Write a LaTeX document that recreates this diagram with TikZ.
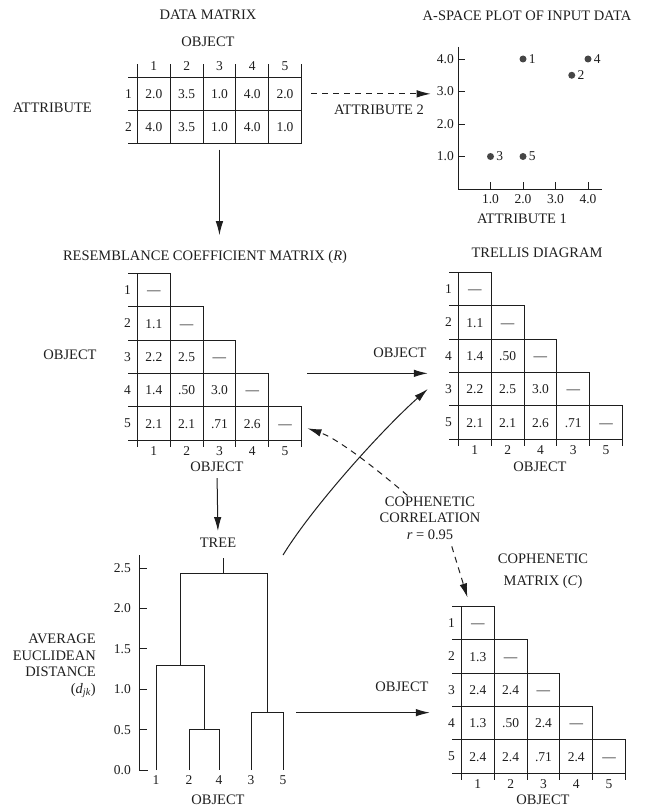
\documentclass[tikz,border=0pt]{standalone}
\usepackage{amsmath}
\usepackage{fontspec}
\setmainfont{Liberation Serif}
\usepackage{tikz}
\usetikzlibrary{arrows.meta, positioning, matrix}

\definecolor{inkblack}{RGB}{30,30,30}
\definecolor{dotgray}{RGB}{70,70,70}

\tikzset{
  cell/.style={
    rectangle, draw=inkblack, line width=0.9pt, inner sep=0pt, outer sep=0pt,
    minimum width=32.8pt, minimum height=33.3pt, text height=9.5pt, text depth=0pt,
    font=\fontsize{13.5}{15}\selectfont, text=inkblack
  },
  cellmatrix/.style={
    matrix of nodes, nodes={cell}, inner sep=0pt, outer sep=0pt,
    column sep=-0.9pt, row sep=-0.9pt, anchor=north west
  },
  heading/.style={font=\fontsize{14.5}{16.5}\selectfont, text=inkblack, inner sep=1pt},
  idx/.style={font=\fontsize{13.5}{15}\selectfont, text=inkblack, inner sep=1pt},
  axisline/.style={draw=inkblack, line width=0.9pt},
  pointdot/.style={circle, fill=dotgray, minimum size=7pt, inner sep=0pt},
  arrowflow/.style={-{Latex[length=14pt,width=7.5pt]}, line width=1pt, draw=inkblack},
  dataflow/.style={arrowflow, dash pattern=on 6pt off 5pt}
}

\begin{document}
\begin{tikzpicture}[x=1pt, y=-1pt]
\useasboundingbox (0,0) rectangle (650,808);

% data matrix
\node[heading] (dtitle) at (208,15) {DATA MATRIX};
\node[heading] (dobj) at (208,42) {OBJECT};
\matrix (data) [cellmatrix, nodes={minimum height=32.8pt}] at (137,77) {
  2.0 & 3.5 & 1.0 & 4.0 & 2.0 \\
  4.0 & 3.5 & 1.0 & 4.0 & 1.0 \\
};
\foreach \c in {1,...,5} {
  \draw[axisline] (data-1-\c.north west) -- ++(0,-13);
  \node[idx] at ([yshift=11pt]data-1-\c.north) {\c};
}
\draw[axisline] (data-1-5.north east) -- ++(0,-13);
\foreach \r in {1,2} {
  \draw[axisline] (data-\r-1.north west) -- ++(-9,0);
  \node[idx] at ([xshift=-9pt]data-\r-1.west) {\r};
}
\draw[axisline] (data-2-1.south west) -- ++(-9,0);
\node[heading, anchor=east] (attr) at (93,108) {ATTRIBUTE};

% a-space plot
\node[heading] (stitle) at (527,16) {A-SPACE PLOT OF INPUT DATA};
\begin{scope}[shift={(458,189)}, x=32.5pt, y=32.5pt]
  \draw[axisline] (0,4.37) |- (4.43,0);
  \foreach \v in {1,...,4} {
    \draw[axisline] (0,\v) -- ++(7pt,0);
    \draw[axisline] (\v,0) -- ++(0,7pt);
    \node[idx, anchor=east] (ytick\v) at ([xshift=-3pt]0,\v) {\v.0};
    \node[idx, anchor=north] (xtick\v) at ([yshift=-4pt]\v,0) {\v.0};
  }
  \foreach \p/\a/\b in {1/2/4, 2/3.5/3.5, 3/1/1, 4/4/4, 5/2/1} {
    \node[pointdot] (pt\p) at (\a,\b) {};
    \node[idx, right=1pt of pt\p] {\p};
  }
\end{scope}
\node[heading] (attr1) at (522,219) {ATTRIBUTE 1};
\node[heading] (attr2) at (379,110) {ATTRIBUTE 2};
\draw[dataflow, shorten <=10pt, shorten >=5pt] (data-1-5.east) -- (data-1-5.east -| ytick3.west);

% resemblance matrix
\node[heading] (rtitle) at (205,257) {RESEMBLANCE COEFFICIENT MATRIX (\textit{R})};
\matrix (R) [cellmatrix] at (137,273) {
  --- \\
  1.1 & --- \\
  2.2 & 2.5 & --- \\
  1.4 & .50 & 3.0 & --- \\
  2.1 & 2.1 & .71 & 2.6 & --- \\
};
\foreach \k in {1,...,5} {
  \draw[axisline] (R-\k-1.north west) -- ++(-9,0);
  \draw[axisline] (R-5-\k.south west) -- ++(0,7);
  \node[idx] at ([xshift=-10pt]R-\k-1.west) {\k};
  \node[idx] at ([yshift=-11pt]R-5-\k.south) {\k};
}
\draw[axisline] (R-5-1.south west) -- ++(-9,0);
\draw[axisline] (R-5-5.south east) -- ++(0,7);
\node[heading] (robjl) at (70,355) {OBJECT};
\node[heading] (robj) at (217,467) {OBJECT};
\draw[arrowflow, shorten <=6pt, shorten >=14pt] (data.south) -- (data.south |- rtitle.north);

% trellis diagram
\node[heading] (ttitle) at (537,253) {TRELLIS DIAGRAM};
\matrix (T) [cellmatrix] at (458,272) {
  --- \\
  1.1 & --- \\
  1.4 & .50 & --- \\
  2.2 & 2.5 & 3.0 & --- \\
  2.1 & 2.1 & 2.6 & .71 & --- \\
};
\foreach \k/\o in {1/1, 2/2, 3/4, 4/3, 5/5} {
  \draw[axisline] (T-\k-1.north west) -- ++(-9,0);
  \draw[axisline] (T-5-\k.south west) -- ++(0,7);
  \node[idx] at ([xshift=-10pt]T-\k-1.west) {\o};
  \node[idx] at ([yshift=-11pt]T-5-\k.south) {\o};
}
\draw[axisline] (T-5-1.south west) -- ++(-9,0);
\draw[axisline] (T-5-5.south east) -- ++(0,7);
\node[heading] (tobjl) at (400,353) {OBJECT};
\node[heading] (tobj) at (540,467) {OBJECT};
\draw[arrowflow, shorten <=6pt] (R-4-4.north -| R-5-5.east) -- (R-4-4.north -| tobjl.east);

% tree
\node[heading] (tree) at (218,543) {TREE};
\draw[arrowflow, shorten <=5pt, shorten >=6pt] (robj.south) -- (tree.north);
\begin{scope}[shift={(139,770)}, x=1pt, y=80.8pt]
  \draw[axisline] (0,2.66) |- (9,0);
  \foreach \v in {0.5,1.0,1.5,2.0,2.5}
    \draw[axisline] (0,\v) -- ++(8,0);
  \foreach \v in {0.0,0.5,1.0,1.5,2.0,2.5}
    \node[idx, anchor=east] at ([xshift=-7pt]0,\v) {\v};
  \foreach \x/\o in {17/1, 50/2, 80/4, 112/3, 144/5}
    \node[idx, anchor=north] (leaf\o) at ([yshift=-4pt]\x,0) {\o};
  \draw[axisline] (50,0) |- (80,0.5) -- (80,0);
  \draw[axisline] (112,0) |- (144,0.71) -- (144,0);
  \draw[axisline] (17,0) |- (65,1.29) -- (65,0.5);
  \draw[axisline] (41,1.29) |- (128,2.43) -- (128,0.71);
  \draw[axisline] (84.5,2.43) -- (84.5,2.63);
  \coordinate (n35) at (144,0.71);
  \coordinate (tout) at (144,2.66);
\end{scope}
\node[heading, align=right, anchor=east] (ylab) at (97,666) {AVERAGE\\EUCLIDEAN\\DISTANCE\\(\textit{d}\textsubscript{\textit{jk}})};
\node[heading] (treeobj) at (218,800) {OBJECT};
\draw[arrowflow] (tout) .. controls +(30,-49) and +(-45,40) .. (T-4-1.west -| tobjl.east);

% cophenetic matrix
\node[heading, align=center] (corr) at (430,518) {COPHENETIC\\CORRELATION\\\textit{r} = 0.95};
\node[heading, align=center] (ctitle) at (543,571) {COPHENETIC\\[6pt]MATRIX (\textit{C})};
\matrix (C) [cellmatrix] at (461,606) {
  --- \\
  1.3 & --- \\
  2.4 & 2.4 & --- \\
  1.3 & .50 & 2.4 & --- \\
  2.4 & 2.4 & .71 & 2.4 & --- \\
};
\foreach \k in {1,...,5} {
  \draw[axisline] (C-\k-1.north west) -- ++(-9,0);
  \draw[axisline] (C-5-\k.south west) -- ++(0,7);
  \node[idx] at ([xshift=-10pt]C-\k-1.west) {\k};
  \node[idx] at ([yshift=-11pt]C-5-\k.south) {\k};
}
\draw[axisline] (C-5-1.south west) -- ++(-9,0);
\draw[axisline] (C-5-5.south east) -- ++(0,7);
\node[heading] (cobjl) at (402,687) {OBJECT};
\node[heading] (cobj) at (543,800) {OBJECT};
\draw[arrowflow, shorten <=13pt] (n35) -- (n35 -| cobjl.east);

\draw[dataflow] (corr.135) .. controls +(-27,-23) and +(32,11) .. ([xshift=6pt,yshift=-5pt]R-5-5.east);
\draw[dataflow, shorten <=6pt] ([xshift=20pt]corr.south) -- ([xshift=6pt,yshift=9pt]C-1-1.north west);

\end{tikzpicture}
\end{document}
